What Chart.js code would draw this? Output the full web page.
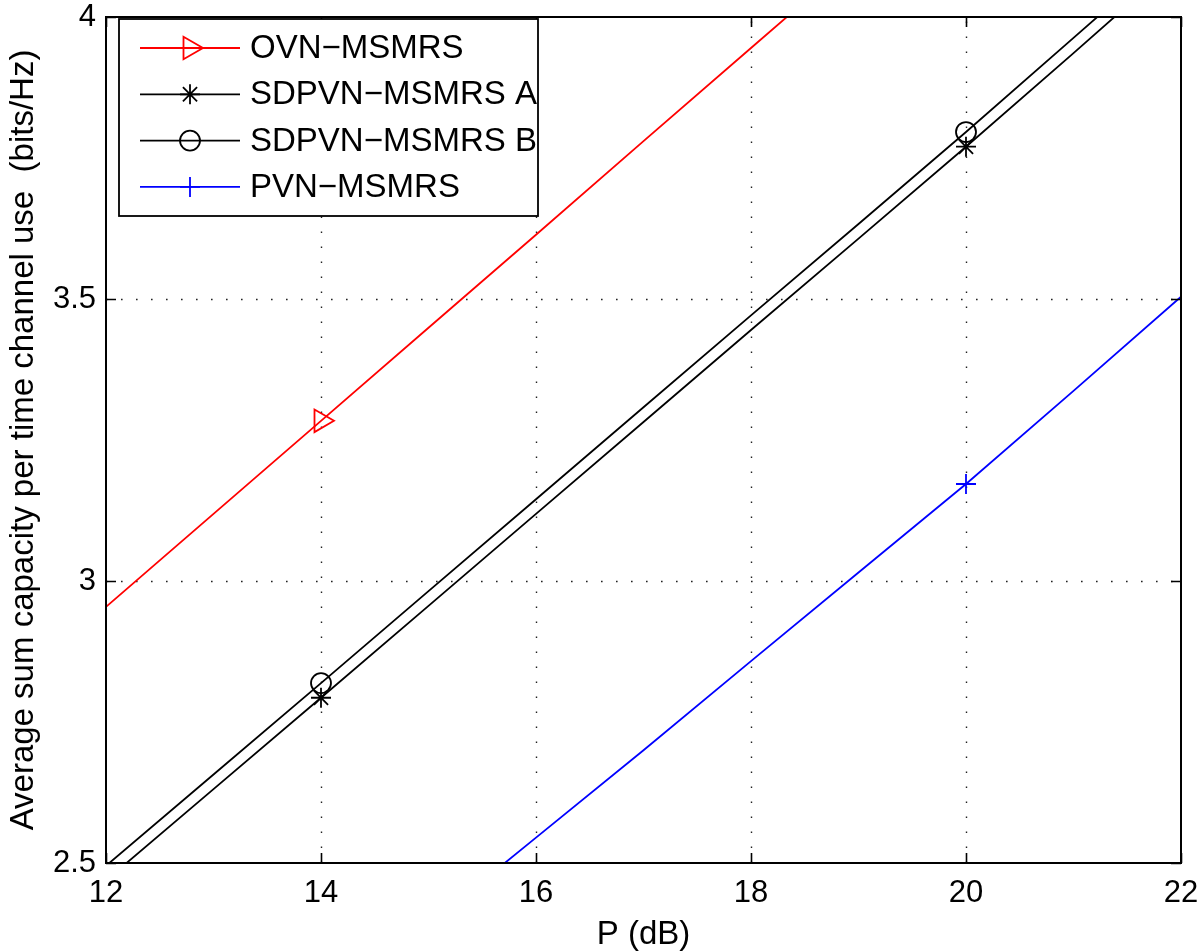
<!DOCTYPE html>
<html><head><meta charset="utf-8">
<script src="https://cdn.jsdelivr.net/npm/chart.js@4.4.0/dist/chart.umd.min.js"></script>
<style>html,body{margin:0;padding:0;background:#fff;} canvas{display:block;}</style>
</head><body>
<canvas id="c" width="1200" height="951"></canvas>
<script>
// ---- data ----
const xValues = [12, 13, 14, 15, 16, 17, 18, 19, 20, 21, 22];
const ovnMsmrs    = [2.954, 3.119, 3.284, 3.449, 3.614, 3.780, 3.945, 4.110, 4.275, 4.440, 4.605];
const sdpvnMsmrsA = [2.469, 2.631, 2.793, 2.956, 3.119, 3.282, 3.445, 3.607, 3.770, 3.936, 4.104];
const sdpvnMsmrsB = [2.495, 2.657, 2.819, 2.982, 3.145, 3.308, 3.471, 3.633, 3.796, 3.963, 4.130];
const pvnMsmrs    = [1.930, 2.080, 2.235, 2.390, 2.545, 2.700, 2.858, 3.015, 3.172, 3.337, 3.504];
const markerX = [14, 20];
const seriesNames = ['OVN\u2212MSMRS', 'SDPVN\u2212MSMRS A', 'SDPVN\u2212MSMRS B', 'PVN\u2212MSMRS'];
const xTicks = [12, 14, 16, 18, 20, 22];
const yTicks = [2.5, 3, 3.5, 4];
const xTitle = 'P (dB)';
const yTitle = 'Average sum capacity per time channel use  (bits/Hz)';

const FONT = "'Liberation Sans', Helvetica, Arial, sans-serif";
const TICK_FS = 31;
const TEXT_FS = 33;

function pts(arr) { return xValues.map((x, i) => ({ x: x, y: arr[i] })); }
function radiusFor(r) {
  return ctx => (markerX.indexOf(xValues[ctx.dataIndex]) >= 0 ? r : 0);
}

const styles = [
  { color: '#ff0000', pointStyle: 'triangle', rotation: 90, radius: 13 },
  { color: '#000000', pointStyle: 'star', rotation: 0, radius: 10 },
  { color: '#000000', pointStyle: 'circle', rotation: 0, radius: 10 },
  { color: '#0000ff', pointStyle: 'cross', rotation: 0, radius: 10 }
];
const seriesData = [ovnMsmrs, sdpvnMsmrsA, sdpvnMsmrsB, pvnMsmrs];
const LW = 1.8;

const datasets = seriesData.map((arr, i) => ({
  label: seriesNames[i],
  data: pts(arr),
  borderColor: styles[i].color,
  backgroundColor: 'rgba(0,0,0,0)',
  borderWidth: LW,
  pointStyle: styles[i].pointStyle,
  rotation: styles[i].rotation,
  pointRadius: radiusFor(styles[i].radius),
  pointHoverRadius: radiusFor(styles[i].radius),
  pointBorderColor: styles[i].color,
  pointBackgroundColor: 'rgba(0,0,0,0)',
  pointBorderWidth: LW,
  tension: 0,
  fill: false
}));

function drawMarker(ctx, st, x, y) {
  if (Chart.helpers && Chart.helpers.drawPoint) {
    ctx.save();
    ctx.strokeStyle = st.color;
    ctx.fillStyle = 'rgba(0,0,0,0)';
    ctx.lineWidth = LW;
    Chart.helpers.drawPoint(ctx, { pointStyle: st.pointStyle, rotation: st.rotation, radius: st.radius, borderWidth: LW }, x, y);
    ctx.restore();
  }
}

const framePlugin = {
  id: 'matlabFrame',
  beforeDatasetsDraw(chart) {
    const { ctx, chartArea: a, scales: { x, y } } = chart;
    ctx.save();
    ctx.strokeStyle = '#222';
    ctx.lineWidth = 1.4;
    ctx.setLineDash([1.6, 13.4]);
    xTicks.forEach(v => {
      if (v === x.min || v === x.max) return;
      const px = Math.round(x.getPixelForValue(v)) + 0.5;
      ctx.beginPath(); ctx.moveTo(px, a.bottom); ctx.lineTo(px, a.top); ctx.stroke();
    });
    yTicks.forEach(v => {
      if (v === y.min || v === y.max) return;
      const py = Math.round(y.getPixelForValue(v)) + 0.5;
      ctx.beginPath(); ctx.moveTo(a.left, py); ctx.lineTo(a.right, py); ctx.stroke();
    });
    ctx.restore();
  },
  afterDatasetsDraw(chart) {
    const { ctx, chartArea: a, scales: { x, y } } = chart;
    ctx.save();
    // inward ticks
    ctx.strokeStyle = '#000';
    ctx.lineWidth = 1.6;
    const tl = 10;
    xTicks.forEach(v => {
      const px = Math.round(x.getPixelForValue(v)) + 0.5;
      ctx.beginPath();
      ctx.moveTo(px, a.bottom); ctx.lineTo(px, a.bottom - tl);
      ctx.moveTo(px, a.top); ctx.lineTo(px, a.top + tl);
      ctx.stroke();
    });
    yTicks.forEach(v => {
      const py = Math.round(y.getPixelForValue(v)) + 0.5;
      ctx.beginPath();
      ctx.moveTo(a.left, py); ctx.lineTo(a.left + tl, py);
      ctx.moveTo(a.right, py); ctx.lineTo(a.right - tl, py);
      ctx.stroke();
    });
    // frame
    ctx.lineWidth = 2;
    ctx.strokeRect(a.left, a.top, a.right - a.left, a.bottom - a.top);

    // legend
    const bx = a.left + 13, by = a.top + 2, bw = 419, bh = 197;
    ctx.fillStyle = '#fff';
    ctx.fillRect(bx, by, bw, bh);
    ctx.lineWidth = 1.8;
    ctx.strokeStyle = '#000';
    ctx.strokeRect(bx, by, bw, bh);
    ctx.font = TEXT_FS + 'px ' + FONT;
    ctx.textBaseline = 'middle';
    ctx.textAlign = 'left';
    seriesNames.forEach((name, i) => {
      const ry = by + 29 + i * 46.3;
      const st = styles[i];
      ctx.strokeStyle = st.color;
      ctx.lineWidth = LW;
      ctx.beginPath(); ctx.moveTo(bx + 21, ry); ctx.lineTo(bx + 121, ry); ctx.stroke();
      drawMarker(ctx, st, bx + 71, ry);
      ctx.fillStyle = '#000';
      ctx.fillText(name, bx + 131, ry + 1);
    });
    ctx.restore();
  }
};

new Chart(document.getElementById('c'), {
  type: 'line',
  data: { datasets: datasets },
  options: {
    responsive: false,
    animation: false,
    devicePixelRatio: 1,
    layout: { padding: { top: 17, right: 19, left: 0, bottom: 0 } },
    plugins: { legend: { display: false }, tooltip: { enabled: false } },
    scales: {
      x: {
        type: 'linear', min: 12, max: 22,
        afterBuildTicks: s => { s.ticks = xTicks.map(v => ({ value: v })); },
        afterFit: s => { s.height = 88; s.paddingLeft = 0; s.paddingRight = 0; },
        grid: { display: false, drawTicks: false },
        border: { display: false },
        ticks: { color: '#000', padding: 12, font: { family: FONT, size: TICK_FS }, maxRotation: 0, autoSkip: false },
        title: { display: true, text: xTitle, color: '#000', font: { family: FONT, size: TEXT_FS, lineHeight: 1 }, padding: { top: 0, bottom: 0 } }
      },
      y: {
        type: 'linear', min: 2.5, max: 4,
        afterBuildTicks: s => { s.ticks = yTicks.map(v => ({ value: v })); },
        afterFit: s => { s.width = 106; s.paddingTop = 0; s.paddingBottom = 0; },
        grid: { display: false, drawTicks: false },
        border: { display: false },
        ticks: { color: '#000', padding: 10, font: { family: FONT, size: TICK_FS }, autoSkip: false, callback: v => String(v) },
        title: { display: true, text: yTitle, color: '#000', font: { family: FONT, size: TEXT_FS, lineHeight: 1 }, padding: { top: 7, bottom: 0 } }
      }
    }
  },
  plugins: [framePlugin]
});
</script>
</body></html>
